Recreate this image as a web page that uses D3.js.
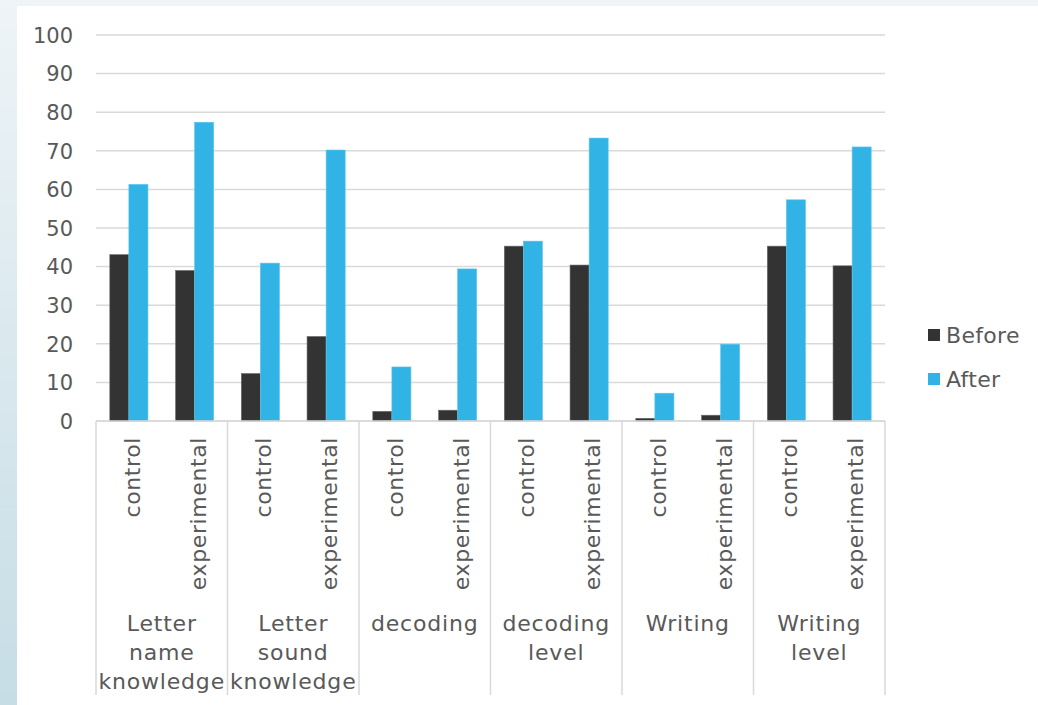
<!DOCTYPE html>
<html>
<head>
<meta charset="utf-8">
<script src="https://cdn.jsdelivr.net/npm/d3@7"></script>
<style>
  html, body { margin: 0; padding: 0; background: #ffffff; }
  svg { display: block; }
  text { font-family: "DejaVu Sans", sans-serif; fill: #595959; }
</style>
</head>
<body>
<svg id="chart" width="1038" height="705"></svg>
<script>
// Skill groups and the two study conditions inside each group
const groups = [
  ["Letter", "name", "knowledge"],
  ["Letter", "sound", "knowledge"],
  ["decoding"],
  ["decoding", "level"],
  ["Writing"],
  ["Writing", "level"]
];
const conditions = ["control", "experimental"];
const seriesNames = ["Before", "After"];
const seriesColors = ["#333333", "#31b4e5"];

// Scores per group x condition (control, experimental)
const beforeValues = [43.1, 39.0, 12.3, 21.9, 2.5, 2.8, 45.3, 40.4, 0.7, 1.5, 45.3, 40.2];
const afterValues  = [61.3, 77.4, 40.9, 70.2, 14.0, 39.4, 46.6, 73.3, 7.2, 19.9, 57.3, 71.0];
const yTicks = [0, 10, 20, 30, 40, 50, 60, 70, 80, 90, 100];

const svg = d3.select("#chart");
const W = 1038, H = 705;

// Backdrop: tinted frame with a white panel
const defs = svg.append("defs");
const grad = defs.append("linearGradient").attr("id", "side").attr("x1", 0).attr("y1", 0).attr("x2", 0).attr("y2", 1);
grad.append("stop").attr("offset", "0%").attr("stop-color", "#eef4f7");
grad.append("stop").attr("offset", "100%").attr("stop-color", "#c6dde5");
svg.append("rect").attr("width", W).attr("height", H).attr("fill", "#eff4f7");
svg.append("rect").attr("width", 17).attr("height", H).attr("fill", "url(#side)");
svg.append("rect").attr("x", 17).attr("y", 6).attr("width", W - 17).attr("height", H - 6).attr("fill", "#ffffff");

const plot = { left: 96, right: 885, top: 35, bottom: 421 };

const slots = [];
groups.forEach((g, gi) => conditions.forEach((c, ci) => slots.push({ gi, ci, cond: c, key: gi + "-" + ci })));

const x = d3.scaleBand().domain(slots.map(s => s.key)).range([plot.left, plot.right]).paddingInner(0.42).paddingOuter(0.21);
const xSeries = d3.scaleBand().domain(seriesNames).range([0, x.bandwidth()]);
const y = d3.scaleLinear().domain([0, 100]).range([plot.bottom, plot.top]);
const groupX = d3.scaleBand().domain(d3.range(groups.length)).range([plot.left, plot.right]);

// Horizontal gridlines
svg.append("g").selectAll("line").data(yTicks).join("line")
  .attr("x1", plot.left).attr("x2", plot.right)
  .attr("y1", d => y(d)).attr("y2", d => y(d))
  .attr("stroke", "#d9d9d9").attr("stroke-width", 1.5);

// Value axis labels
const yAxis = svg.append("g").attr("transform", `translate(${plot.left},0)`)
  .call(d3.axisLeft(y).tickValues(yTicks).tickSize(0).tickPadding(23));
yAxis.select(".domain").remove();
yAxis.selectAll("text").style("font-size", "21px").attr("fill", "#595959").attr("dy", "0.35em");

// Bars
const barData = slots.map((s, i) => ({ key: s.key, vals: [beforeValues[i], afterValues[i]] }));
const slotG = svg.append("g").selectAll("g").data(barData).join("g")
  .attr("transform", d => `translate(${x(d.key)},0)`);
slotG.selectAll("rect").data(d => d.vals.map((v, k) => ({ v, k }))).join("rect")
  .attr("x", d => xSeries(seriesNames[d.k]))
  .attr("width", xSeries.bandwidth())
  .attr("y", d => y(d.v))
  .attr("height", d => y(0) - y(d.v))
  .attr("fill", d => seriesColors[d.k])
  .attr("stroke", d => d.k === 0 ? "#6a6a6a" : "#5cc6ee")
  .attr("stroke-width", 0.6);

// Category axis line and group separators
svg.append("line").attr("x1", plot.left).attr("x2", plot.right).attr("y1", plot.bottom).attr("y2", plot.bottom)
  .attr("stroke", "#d9d9d9").attr("stroke-width", 1.5);
const seps = d3.range(groups.length + 1).map(i => i < groups.length ? groupX(i) : plot.right);
svg.append("g").selectAll("line").data(seps).join("line")
  .attr("x1", d => d).attr("x2", d => d).attr("y1", plot.bottom).attr("y2", 695)
  .attr("stroke", "#d9d9d9").attr("stroke-width", 1.5);

// Condition labels (rotated)
svg.append("g").selectAll("text").data(slots).join("text")
  .attr("transform", s => `translate(${x(s.key) + x.bandwidth() / 2 + 11},437) rotate(-90)`)
  .attr("text-anchor", "end")
  .style("font-size", "22px")
  .style("letter-spacing", "0.6px")
  .text(s => s.cond);

// Group labels (multi-line)
const gl = svg.append("g").selectAll("text").data(groups).join("text")
  .attr("x", (g, i) => groupX(i) + groupX.bandwidth() / 2)
  .attr("y", 631)
  .attr("text-anchor", "middle")
  .style("font-size", "22px")
  .style("letter-spacing", "0.8px");
gl.selectAll("tspan").data(d => d).join("tspan")
  .attr("x", function () { return d3.select(this.parentNode).attr("x"); })
  .attr("dy", (d, i) => i === 0 ? 0 : 29)
  .text(d => d);

// Legend
const leg = svg.append("g").selectAll("g").data(seriesNames).join("g")
  .attr("transform", (d, i) => `translate(928,${329 + i * 44})`);
leg.append("rect").attr("width", 12).attr("height", 12).attr("fill", (d, i) => seriesColors[i]);
leg.append("text").attr("x", 18).attr("y", 6).attr("dy", "0.35em").style("font-size", "22px").style("letter-spacing", "0.3px").text(d => d);
</script>
</body>
</html>
